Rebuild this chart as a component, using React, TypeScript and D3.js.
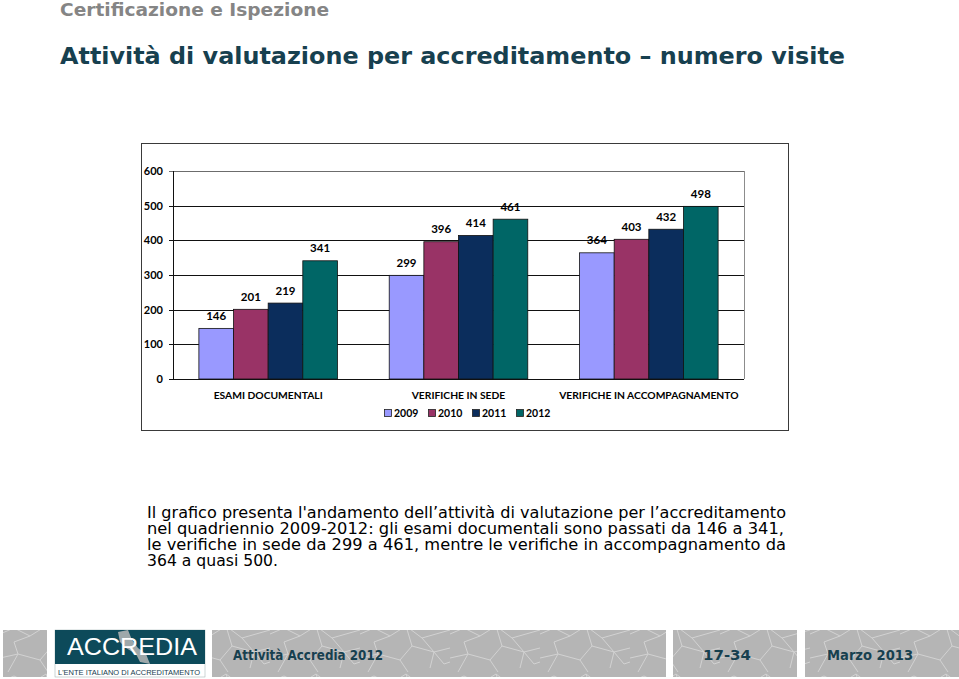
import React from 'react';
import * as d3 from 'd3';

// dati del grafico
const categories = ['ESAMI DOCUMENTALI', 'VERIFICHE IN SEDE', 'VERIFICHE IN ACCOMPAGNAMENTO'];
const years = ['2009', '2010', '2011', '2012'];
const values2009 = [146, 299, 364];
const values2010 = [201, 396, 403];
const values2011 = [219, 414, 432];
const values2012 = [341, 461, 498];
const yTicks = [0, 100, 200, 300, 400, 500, 600];

const colors = ['#9999ff', '#993366', '#0b2d5c', '#006666'];
const series = [values2009, values2010, values2011, values2012];

const paragraph = [
  "Il grafico presenta l'andamento dell\u2019attività di valutazione per l\u2019accreditamento",
  'nel quadriennio 2009-2012: gli esami documentali sono passati da 146 a 341,',
  'le verifiche in sede da 299 a 461, mentre le verifiche in accompagnamento da',
  '364 a quasi 500.',
];
// larghezza di ogni riga (giustificata, tranne l'ultima)
const lineWidths = [639, 637, 639, 131];

const width = 959;
const height = 679;

// area del grafico
const plot = { left: 173, right: 744, top: 171, bottom: 379 };

const labelFont = 'Lato, "Open Sans", sans-serif';
const verdana = '"DejaVu Sans", Verdana, sans-serif';

export default function App() {
  const x = d3.scaleBand<string>()
    .domain(categories)
    .range([plot.left, plot.right])
    .paddingInner(0.272)
    .paddingOuter(0.136);

  const x1 = d3.scaleBand<string>()
    .domain(years)
    .range([0, x.bandwidth()]);

  const y = d3.scaleLinear().domain([0, 600]).range([plot.bottom, plot.top]);

  const teal = '#17404f';
  const footGray = '#b5b5b5';

  return (
    <svg
      width={width}
      height={height}
      style={{ position: 'absolute', left: 0, top: 0, background: '#fff' }}
    >
      <defs>
        <pattern id="mappa" width="90" height="48" patternUnits="userSpaceOnUse">
          <rect width="90" height="48" fill={footGray} />
          <path
            d="M0 10 L14 4 L30 12 L46 2 L62 14 L90 6 M8 48 L18 30 L14 18 L30 12 M46 2 L52 22 L40 36 L48 48 M62 14 L74 28 L90 24 M52 22 L74 28 L70 44 M0 34 L18 30 L40 36 M74 28 L84 40 L90 38"
            fill="none"
            stroke="#d2d2d2"
            strokeWidth="1"
          />
        </pattern>
      </defs>

      {/* intestazione */}
      <text x={60} y={16} fontFamily={verdana} fontWeight="bold" fontSize={18.5} fill="#858585"
        textLength={269} lengthAdjust="spacingAndGlyphs">
        Certificazione e Ispezione
      </text>
      <text x={60} y={64} fontFamily={verdana} fontWeight="bold" fontSize={23.5} fill={teal}
        textLength={785} lengthAdjust="spacingAndGlyphs">
        Attività di valutazione per accreditamento {'\u2013'} numero visite
      </text>

      {/* cornice del grafico */}
      <rect x={141.5} y={143.5} width={647} height={287} fill="#fff" stroke="#3a3a3a" strokeWidth={1} />

      {/* griglia */}
      {yTicks.map(t => (
        <g key={t}>
          <line x1={plot.left - 4} x2={plot.right} y1={Math.round(y(t)) + 0.5} y2={Math.round(y(t)) + 0.5}
            stroke={t === 600 ? '#6c6c6c' : '#111'} strokeWidth={1} />
          <text x={163} y={y(t) + 4} textAnchor="end" fontFamily={labelFont} fontWeight="bold" fontSize={11}>
            {t}
          </text>
        </g>
      ))}
      <line x1={plot.right + 0.5} x2={plot.right + 0.5} y1={plot.top} y2={plot.bottom} stroke="#8c8c8c" />

      {/* barre */}
      {categories.map((c, ci) => (
        <g key={c} transform={`translate(${x(c)},0)`}>
          {years.map((yr, si) => {
            const v = series[si][ci];
            const bx = x1(yr) as number;
            return (
              <g key={yr}>
                <rect x={bx} y={y(v)} width={x1.bandwidth()} height={plot.bottom - y(v)}
                  fill={colors[si]} stroke="#111" strokeWidth={0.8} />
                <text x={bx + x1.bandwidth() / 2} y={y(v) - 8.5} textAnchor="middle"
                  fontFamily={labelFont} fontWeight="bold" fontSize={11.5}>
                  {v}
                </text>
              </g>
            );
          })}
          <text x={x.bandwidth() / 2} y={399} textAnchor="middle" fontFamily={labelFont}
            fontWeight="bold" fontSize={10.3}>
            {c}
          </text>
        </g>
      ))}
      <line x1={plot.left + 0.5} x2={plot.left + 0.5} y1={plot.top} y2={plot.bottom} stroke="#111" />

      {/* legenda */}
      {years.map((yr, i) => (
        <g key={yr} transform={`translate(${384 + i * 44},409)`}>
          <rect x={0.5} y={0.5} width={7} height={7} fill={colors[i]} stroke="#222" strokeWidth={0.8} />
          <text x={10} y={7.5} fontFamily={labelFont} fontWeight="bold" fontSize={10.5}>{yr}</text>
        </g>
      ))}

      {/* testo di commento */}
      {paragraph.map((line, i) => (
        <text key={i} x={147} y={518 + i * 16} fontFamily={verdana}
          fontSize={15.5} fill="#000"
          textLength={lineWidths[i]} lengthAdjust="spacingAndGlyphs">
          {line}
        </text>
      ))}

      {/* piè di pagina */}
      <rect x={3} y={630} width={44} height={47} fill="url(#mappa)" />
      <rect x={212} y={630} width={454} height={47} fill="url(#mappa)" />
      <rect x={673} y={630} width={124} height={47} fill="url(#mappa)" />
      <rect x={805} y={630} width={154} height={47} fill="url(#mappa)" />

      <rect x={55} y={630} width={150} height={47} fill="#fff" stroke="#9aa" strokeWidth={0.5} />
      <rect x={55} y={630} width={150} height={34} fill="#0d4a5a" />
      <path d="M118 632 L128 630 L132 640 L138 648 L146 654 L150 664 L140 662 L136 654 L126 648 L120 642 Z"
        fill="#b8b8b8" opacity={0.85} />
      <text x={67} y={655} fontFamily='"Liberation Sans", sans-serif' fontSize={24} fill="#fff"
        textLength={130} lengthAdjust="spacingAndGlyphs">
        ACCREDIA
      </text>
      <text x={58} y={675} fontFamily='"Liberation Sans", sans-serif' fontSize={7.5} fill={teal}
        textLength={142} lengthAdjust="spacingAndGlyphs">
        L'ENTE ITALIANO DI ACCREDITAMENTO
      </text>

      <text x={233} y={660} fontFamily={verdana} fontWeight="bold" fontSize={14} fill={teal}
        textLength={150} lengthAdjust="spacingAndGlyphs">
        Attività Accredia 2012
      </text>
      <text x={703} y={660} fontFamily={verdana} fontWeight="bold" fontSize={14} fill={teal}
        textLength={48} lengthAdjust="spacingAndGlyphs">
        17-34
      </text>
      <text x={827} y={660} fontFamily={verdana} fontWeight="bold" fontSize={14} fill={teal}
        textLength={86} lengthAdjust="spacingAndGlyphs">
        Marzo 2013
      </text>
    </svg>
  );
}
